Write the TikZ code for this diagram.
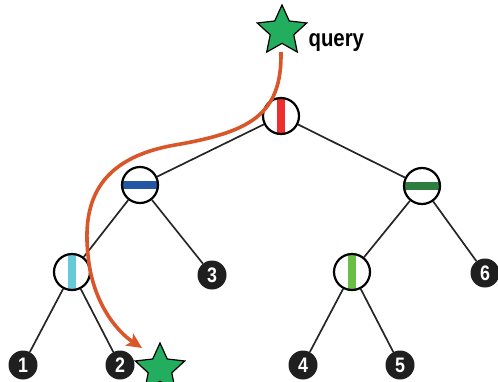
\documentclass[tikz,border=0pt]{standalone}
\usepackage{fontspec}
\setmainfont{Liberation Sans}
\newfontfamily\condfont[FakeStretch=0.85]{Liberation Sans}
\usetikzlibrary{shapes.geometric,arrows.meta}
\definecolor{barred}{HTML}{EE2D2F}
\definecolor{barblue}{HTML}{2356A5}
\definecolor{bardkgreen}{HTML}{2F7D40}
\definecolor{barcyan}{HTML}{66C9D7}
\definecolor{barltgreen}{HTML}{6BBE45}
\definecolor{stargreen}{HTML}{22AE5E}
\definecolor{routeorange}{HTML}{D9562A}
\tikzset{
  inner/.style={circle,draw=black,line width=2.2pt,fill=white,minimum size=36pt,inner sep=0pt},
  vbar/.style={inner,path picture={\fill[#1] ([xshift=-4pt]path picture bounding box.north) rectangle ([xshift=4pt]path picture bounding box.south);}},
  hbar/.style={inner,path picture={\fill[#1] ([yshift=-4pt]path picture bounding box.west) rectangle ([yshift=4pt]path picture bounding box.east);}},
  leaf/.style={circle,fill=black!88,text=white,minimum size=29pt,inner sep=0pt,font=\condfont\fontsize{21}{21}\selectfont\bfseries},
  target/.style={star,star points=5,star point ratio=2.1,draw=black,line width=1.2pt,fill=stargreen,minimum size=52pt,inner sep=0pt},
  branch/.style={line width=1.7pt,draw=black!85},
  route/.style={line width=3.6pt,draw=routeorange,-{Stealth[length=15pt,width=14pt,inset=3pt]}}
}
\begin{document}
\begin{tikzpicture}[x=1pt,y=-1pt]
  \useasboundingbox (0,0) rectangle (498,381);
  \node[target] (qstar) at (282,31) {};
  \node[anchor=base west,font=\condfont\fontsize{24}{24}\selectfont\bfseries] (qlabel) at (305,46) {query};
  \node[vbar=barred] (root) at (281,116) {};
  \node[hbar=barblue] (nl) at (140,185) {};
  \node[hbar=bardkgreen] (nr) at (422,186) {};
  \node[vbar=barcyan] (nll) at (72,272) {};
  \node[vbar=barltgreen] (nrl) at (352,272) {};
  \node[leaf] (l1) at (23,365) {1};
  \node[leaf] (l2) at (120,365) {2};
  \node[leaf] (l3) at (212,275) {3};
  \node[leaf] (l4) at (303,365) {4};
  \node[leaf] (l5) at (400,365) {5};
  \node[leaf] (l6) at (485,273) {6};
  \node[target] (hstar) at (160,369) {};
  \draw[branch] (root) -- (nl);
  \draw[branch] (root) -- (nr);
  \draw[branch] (nl) -- (nll);
  \draw[branch] (nl) -- (l3);
  \draw[branch] (nr) -- (nrl);
  \draw[branch] (nr) -- (l6);
  \draw[branch] (nll) -- (l1);
  \draw[branch] (nll) -- (l2);
  \draw[branch] (nrl) -- (l4);
  \draw[branch] (nrl) -- (l5);
  \coordinate (rstart) at (281,52);
  \coordinate (rmid1) at (175,145);
  \coordinate (rmid2) at (88,255);
  \coordinate (rend) at (142,348);
  \draw[route] (rstart) .. controls (282,115) and (250,132) .. (rmid1)
    .. controls (100,158) and (82,200) .. (rmid2)
    .. controls (92,300) and (115,330) .. (rend);
\end{tikzpicture}
\end{document}
